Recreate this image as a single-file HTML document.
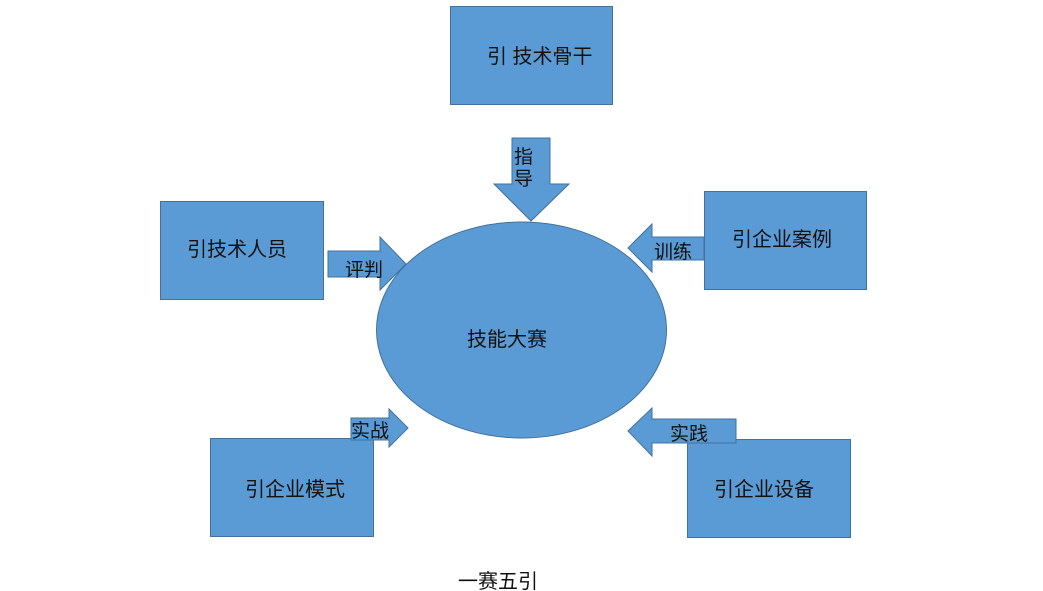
<!DOCTYPE html>
<html><head><meta charset="utf-8"><style>
html,body{margin:0;padding:0;background:#fff;width:1043px;height:591px;overflow:hidden}
text{font-family:"Liberation Sans","Noto Sans CJK SC",sans-serif;fill:#111}
</style></head><body>
<svg width="1043" height="591" xmlns="http://www.w3.org/2000/svg">
<g fill="#5b9bd5" stroke="#41719c" stroke-width="1">
<rect x="450.5" y="6.5" width="162" height="98"/>
<rect x="160.5" y="201.5" width="163" height="98"/>
<rect x="704.5" y="191.5" width="162" height="98"/>
<rect x="210.5" y="438.5" width="163" height="98"/>
<rect x="687.5" y="439.5" width="163" height="98"/>
<ellipse cx="521.5" cy="330" rx="145" ry="108"/>
<polygon points="512,138 550,138 550,184 569,184 531,221 494,184 512,184"/>
<polygon points="328,251 380,251 380,237 406,264 380,290 380,277 328,277"/>
<polygon points="704,237 652,237 652,224 628,248 652,272 652,260 704,260"/>
<polygon points="351,418 389,418 389,409 408,428 389,447 389,440 351,440"/>
<polygon points="736,419 652,419 652,408 628,431 652,456 652,443 736,443"/>
</g>
<g font-size="20">
<text x="487" y="63">引 技术骨干</text>
<text x="187" y="256">引技术人员</text>
<text x="732" y="246">引企业案例</text>
<text x="245" y="496">引企业模式</text>
<text x="714" y="496">引企业设备</text>
<text x="467" y="346">技能大赛</text>
<text x="345" y="276" font-size="19">评判</text>
<text x="654" y="258" font-size="19">训练</text>
<text x="351" y="437" font-size="19">实战</text>
<text x="670" y="440" font-size="19">实践</text>
<text x="514" y="163" font-size="19">指</text>
<text x="514" y="185" font-size="19">导</text>
<text x="458" y="588">一赛五引</text>
</g>
</svg>
</body></html>
